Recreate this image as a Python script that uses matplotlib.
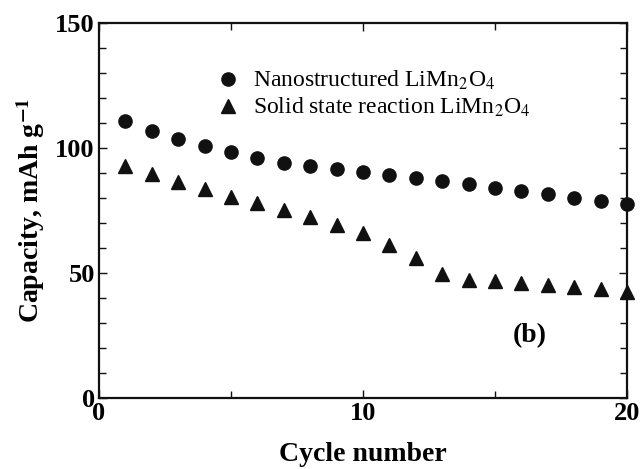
import matplotlib
matplotlib.use("Agg")
import matplotlib.pyplot as plt
from matplotlib.ticker import MultipleLocator

plt.rcParams['font.family'] = ['Liberation Serif', 'DejaVu Serif']
plt.rcParams['mathtext.fontset'] = 'stix'

cycles = list(range(1, 21))
nano = [110.8, 106.7, 103.6, 100.9, 98.4, 95.9, 94.1, 92.8, 91.4, 90.4,
        89.2, 87.8, 86.6, 85.4, 84.1, 82.8, 81.4, 80.1, 78.7, 77.4]
solid = [92.8, 89.6, 86.5, 83.4, 80.3, 77.8, 75.0, 72.3, 69.3, 65.8,
         61.1, 56.0, 49.6, 47.3, 46.8, 46.0, 45.1, 44.5, 43.6, 42.5]

fig = plt.figure(figsize=(6.43, 4.69), dpi=100)
ax = fig.add_axes([0.154, 0.1514, 0.821, 0.7996])

ax.plot(cycles, nano, 'o', color='#111111', ms=9.5, clip_on=False,
        label=r'Nanostructured LiMn$_2$O$_4$')
ax.plot(cycles, solid, '^', color='#111111', ms=9.5, clip_on=False,
        label=r'Solid state reaction LiMn$_2$O$_4$')

ax.set_xlim(0, 20)
ax.set_ylim(0, 150)
ax.xaxis.set_major_locator(MultipleLocator(10))
ax.xaxis.set_minor_locator(MultipleLocator(5))
ax.yaxis.set_major_locator(MultipleLocator(50))
ax.yaxis.set_minor_locator(MultipleLocator(10))

for s in ax.spines.values():
    s.set_linewidth(1.6)
    s.set_color('#111111')
ax.tick_params(which='both', direction='in', top=True, right=True,
               width=1.0, color='#111111')
ax.tick_params(which='major', length=6, pad=3, labelsize=19)
ax.tick_params(which='minor', length=5)
for lab in ax.get_xticklabels() + ax.get_yticklabels():
    lab.set_fontweight('bold')

ax.set_xlabel('Cycle number', fontsize=20, fontweight='bold', labelpad=12)
ax.set_ylabel(r'Capacity, mAh g$^{\mathbf{-1}}$', fontsize=20, fontweight='bold', labelpad=6)

ax.legend(loc='upper left', bbox_to_anchor=(0.222, 0.877), frameon=False,
          fontsize=17, handlelength=1.0, handletextpad=0.55, labelspacing=0.15,
          borderpad=0, borderaxespad=0)

ax.text(0.784, 0.149, '(b)', transform=ax.transAxes, fontsize=20, fontweight='bold')

fig.savefig('out.png', dpi=100)
